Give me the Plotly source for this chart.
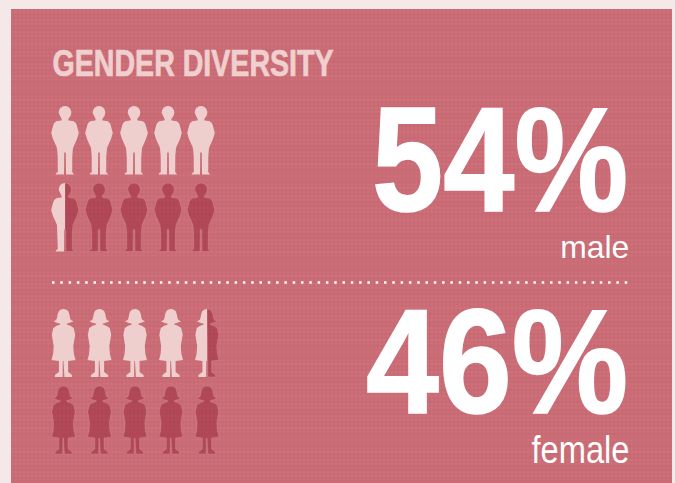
import plotly.graph_objects as go

# ---- data ----
title = "GENDER DIVERSITY"
categories = ["male", "female"]
percent = [54, 46]
icons_total = 10

# ---- styling ----
W, H = 675, 483
PAGE = "#F4E8E8"
PANEL = "#CF717A"
WEAVE = "rgba(120,35,50,0.28)"
WEAVE2 = "rgba(120,35,50,0.07)"
LIGHT = "#EFCFCE"
DARK = "rgba(160,50,68,0.62)"
FONT = "Liberation Sans"

# right half of each silhouette in local px, origin at icon top-centre
MALE_R = [(0,0),(2.5,.5),(4.6,2),(6,4.5),(6.3,7),(5.5,10),(3.8,12.3),(3.2,13.5),(3.7,14.5),(8.8,15.3),(10.8,17),(11.7,19),(13.8,27),(12,33),(8,42),(7.3,50),(7.2,66),(9.2,67.6),(9.2,68.5),(1,68.5),(.8,47),(0,46)]
FEMALE_R = [(0,0),(2.5,.4),(4.6,2),(5.8,5),(6.5,9),(7.2,10.8),(10,12.5),(6,14),(3.2,14.7),(3.6,15.8),(6.9,16.7),(10.2,19),(11.7,25.7),(10.6,32),(9.8,37),(10.4,45),(12,51),(4.6,52),(4.6,63),(8.6,66),(8.6,68),(.9,68),(.7,52),(0,52)]
MALE = MALE_R + [(-x, y) for x, y in reversed(MALE_R[1:-1])]
FEMALE = FEMALE_R + [(-x, y) for x, y in reversed(FEMALE_R[1:-1])]
GRIDS = {
    "male": dict(shape=MALE, cols=[65, 99, 134, 168, 201], rows=[106, 183]),
    "female": dict(shape=FEMALE, cols=[63.5, 99.5, 135, 171, 207], rows=[309, 386]),
}


def clip(poly, xmax=None, xmin=None):
    limit = xmax if xmax is not None else xmin
    inside = (lambda p: p[0] <= limit) if xmax is not None else (lambda p: p[0] >= limit)
    out = []
    for i, p in enumerate(poly):
        q = poly[(i + 1) % len(poly)]
        if inside(p):
            out.append(p)
        if inside(p) != inside(q):
            t = (limit - p[0]) / (q[0] - p[0])
            out.append((limit, p[1] + t * (q[1] - p[1])))
    return out


def ring(poly, cx, top):
    xs = [cx + p[0] for p in poly] + [cx + poly[0][0], None]
    ys = [top + p[1] for p in poly] + [top + poly[0][1], None]
    return xs, ys


fig = go.Figure()
for pattern in (dict(shape="+", size=4, solidity=0.35, fgcolor=WEAVE, bgcolor=PANEL),
                dict(shape="-", size=11, solidity=0.4, fgcolor=WEAVE2, bgcolor="rgba(0,0,0,0)")):
    fig.add_trace(go.Scatter(
        x=[11, 672, 672, 11, 11], y=[9, 9, 483, 483, 9], mode="lines", fill="toself",
        line=dict(width=0), fillcolor="rgba(0,0,0,0)", fillpattern=pattern,
        hoverinfo="skip", showlegend=False))

for cat, pct in zip(categories, percent):
    g = GRIDS[cat]
    filled = round(pct / 100 * icons_total * 2) / 2
    lx, ly, dx, dy = [], [], [], []
    i = 0
    for top in g["rows"]:
        for cx in g["cols"]:
            if i + 1 <= filled:
                a, b = ring(g["shape"], cx, top); lx += a; ly += b
            elif i >= filled:
                a, b = ring(g["shape"], cx, top); dx += a; dy += b
            else:
                a, b = ring(clip(g["shape"], xmax=0), cx, top); lx += a; ly += b
                a, b = ring(clip(g["shape"], xmin=0), cx, top); dx += a; dy += b
            i += 1
    fig.add_trace(go.Scatter(x=dx, y=dy, mode="lines", fill="toself", fillcolor=DARK,
                             line=dict(width=0.5, color="rgba(225,160,165,0.6)"),
                             hoverinfo="skip", showlegend=False))
    fig.add_trace(go.Scatter(x=lx, y=ly, mode="lines", fill="toself", fillcolor=LIGHT,
                             line=dict(width=0), hoverinfo="skip", showlegend=False))

fig.add_trace(go.Scatter(x=[52, 632], y=[282.5, 282.5], mode="lines",
                         line=dict(color="white", width=2.5, dash="2.5px,5.8px"),
                         hoverinfo="skip", showlegend=False))

widths, strokes = [], []
def text(s, x, y, size, color, weight, width, stroke):
    fig.add_annotation(x=x, y=y, text=s, showarrow=False, xanchor="center", yanchor="middle",
                       font=dict(size=size, color=color, family=FONT, weight=weight))
    widths.append(width)
    strokes.append(stroke)

text(title, 193, 63.5, 36, "#F0CFCF", 700, 281, 0.7)
text(f"{percent[0]}%", 500, 159, 148, "white", 700, 256, 1.6)
text(f"{percent[1]}%", 497, 361, 148, "white", 700, 262, 1.6)
text(categories[0], 594, 247, 32, "white", 400, 69, 0)
text(categories[1], 580.5, 449, 39, "white", 400, 98, 0)

fig.update_xaxes(range=[0, W], visible=False, fixedrange=True)
fig.update_yaxes(range=[H, 0], visible=False, fixedrange=True)
fig.update_layout(width=W, height=H, margin=dict(l=0, r=0, t=0, b=0),
                  paper_bgcolor=PAGE, plot_bgcolor=PAGE, showlegend=False)

post = """
document.body.style.margin = '0';
document.body.style.background = '%s';
var w = %s, s = %s;
document.querySelectorAll('.annotation-text').forEach(function (t, i) {
  t.setAttribute('lengthAdjust', 'spacingAndGlyphs');
  t.setAttribute('textLength', w[i]);
  if (s[i]) {
    t.style.stroke = t.style.fill;
    t.style.strokeWidth = s[i] + 'px';
    t.style.strokeLinejoin = 'miter';
  }
});
""" % (PAGE, widths, strokes)
fig.write_html("out.html", config=dict(displayModeBar=False), post_script=post)
